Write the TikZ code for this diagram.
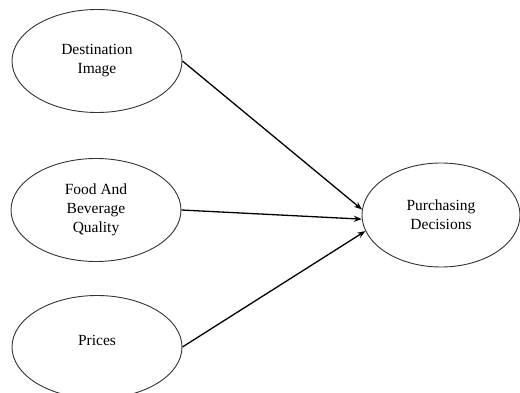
\documentclass[tikz,border=0pt]{standalone}
\usepackage{fontspec}
\setmainfont{Liberation Serif}
\usetikzlibrary{shapes.geometric,arrows.meta}
\begin{document}
\begin{tikzpicture}[x=1pt,y=-1pt,
  construct/.style={draw=black!80, line width=0.9pt, ellipse, minimum width=170pt, minimum height=103pt, inner sep=0pt,
    align=center, font=\fontsize{15.5}{19}\selectfont},
  caption/.style={align=center, font=\fontsize{15.5}{19}\selectfont},
  link/.style={line width=1.3pt, -{Stealth[length=8pt,width=6pt]}}]
\clip (0,0) rectangle (520,393);
\fill[white] (0,0) rectangle (520,393);
\node[construct] (di) at (97,61) {Destination\\Image};
\node[construct] (fb) at (96,210) {Food And\\Beverage\\Quality};
\node[construct] (pr) at (97,347) {};
\node[caption] (prt) at (97,340) {Prices};
\node[construct, minimum width=158pt, minimum height=104pt] (pd) at (441,215) {Purchasing\\Decisions};
\draw[link] (di.east) -- (pd.176);
\draw[link] (fb.east) -- (pd.183.5);
\draw[link] (pr.east) -- (pd.192);
\end{tikzpicture}
\end{document}
